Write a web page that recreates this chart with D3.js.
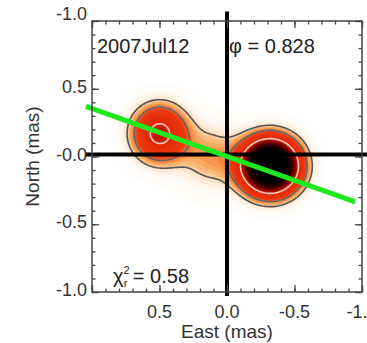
<!DOCTYPE html>
<html>
<head>
<meta charset="utf-8">
<script src="https://cdn.jsdelivr.net/npm/d3@7"></script>
<style>
  body { margin: 0; background: #fff; }
  svg { display: block; font-family: "Liberation Sans", Arial, sans-serif; }
</style>
</head>
<body>
<svg id="chart" width="367" height="343"></svg>
<script>
// Gaussian components of the model image (mas, relative flux)
const compX = [-0.32, 0.5, 0.12];
const compY = [-0.07, 0.17, 0.0];
const compAmp = [1.0, 0.34, 0.1];
const compSx = [0.135, 0.135, 0.16];
const compSy = [0.13, 0.14, 0.17];

// contour lines drawn on top of the image
const lineLevels = [0.07, 0.13, 0.3];
const lineColors = ["#555", "#666", "#f6c8c0"];

// colour table of the image
const cmapStops = [0, 0.03, 0.06, 0.075, 0.1, 0.13, 0.16, 0.3, 0.36, 0.5, 0.65];
const cmapColors = ["#ffffff", "#fffaf5", "#fee9d6", "#fccb98", "#f9a055", "#f36a25",
  "#ec3810", "#e02808", "#a00800", "#300000", "#000000"];

// position angle line (end points, mas)
const paX = [1.045, -0.95];
const paY = [0.37, -0.335];

// axes
const xTickVals = [1, 0.5, 0, -0.5, -1];
const xTickLabels = ["", "0.5", "0.0", "-0.5", "-1.0"];
const yTickVals = [1, 0.5, 0, -0.5, -1];
const yTickLabels = ["-1.0", "0.5", "-0.0", "-0.5", "-1.0"];

const epoch = "2007Jul12";
const phase = "0.828";
const chi2 = "0.58";

const svg = d3.select("#chart");
const pLeft = 92, pRight = 362, pTop = 21, pBottom = 292;

const x = d3.scaleLinear().domain([1, -1]).range([pLeft, pRight]);
const y = d3.scaleLinear().domain([1, -1]).range([pTop, pBottom]);

const color = d3.scaleLinear().domain(cmapStops).range(cmapColors).clamp(true);

// sample the model on a grid
const step = 2;
const nx = Math.ceil((pRight - pLeft) / step);
const ny = Math.ceil((pBottom - pTop) / step);
const values = new Float64Array(nx * ny);
for (let j = 0; j < ny; j++) {
  for (let i = 0; i < nx; i++) {
    const dx = x.invert(pLeft + (i + 0.5) * step);
    const dy = y.invert(pTop + (j + 0.5) * step);
    let v = 0;
    compX.forEach((cx, k) => {
      const u = (dx - cx) / compSx[k];
      const w = (dy - compY[k]) / compSy[k];
      v += compAmp[k] * Math.exp(-0.5 * (u * u + w * w));
    });
    values[j * nx + i] = v;
  }
}

const toPx = d3.geoTransform({
  point: function (px, py) { this.stream.point(pLeft + px * step, pTop + py * step); }
});
const path = d3.geoPath(toPx);

svg.append("clipPath").attr("id", "clip")
  .append("rect").attr("x", pLeft).attr("y", pTop)
  .attr("width", pRight - pLeft).attr("height", pBottom - pTop);

const plot = svg.append("g").attr("clip-path", "url(#clip)");

const fillLevels = d3.range(0.01, 1.2, 0.01);
plot.selectAll("path.fill")
  .data(d3.contours().size([nx, ny]).thresholds(fillLevels)(values))
  .join("path")
  .attr("class", "fill")
  .attr("d", path)
  .attr("fill", d => color(d.value + 0.005));

plot.selectAll("path.line")
  .data(d3.contours().size([nx, ny]).thresholds(lineLevels)(values))
  .join("path")
  .attr("class", "line")
  .attr("d", path)
  .attr("fill", "none")
  .attr("stroke", (d, i) => lineColors[i])
  .attr("stroke-width", 1.6);

// labels inside the panel
const txt = svg.append("g").attr("font-size", 20).attr("fill", "#222");
txt.append("text").attr("x", 97).attr("y", 53).text(epoch);
txt.append("text").attr("x", 229).attr("y", 53).text("\u03c6 = " + phase);
const chiText = txt.append("text").attr("x", 113).attr("y", 283);
chiText.append("tspan").text("\u03c7");
chiText.append("tspan").attr("font-size", 11).attr("dy", -9).text("2");
chiText.append("tspan").attr("font-size", 11).attr("dy", 13).attr("dx", -6).text("r");
chiText.append("tspan").attr("dy", -4).text(" = " + chi2);

// cross at the origin
svg.append("line")
  .attr("x1", x(0)).attr("x2", x(0))
  .attr("y1", y(1.07)).attr("y2", y(-1.03))
  .attr("stroke", "#000").attr("stroke-width", 4);
svg.append("line")
  .attr("x1", x(1.045)).attr("x2", x(-1.1))
  .attr("y1", y(0.015)).attr("y2", y(0.015))
  .attr("stroke", "#000").attr("stroke-width", 4);

// position angle line
svg.append("line")
  .attr("x1", x(paX[0])).attr("y1", y(paY[0]))
  .attr("x2", x(paX[1])).attr("y2", y(paY[1]))
  .attr("stroke", "#20e820").attr("stroke-width", 5);

// frame and ticks
const minor = d3.range(-10, 11).map(d => d / 10);
const axes = [
  [d3.axisBottom, `translate(0,${pBottom})`, x],
  [d3.axisTop, `translate(0,${pTop})`, x],
  [d3.axisLeft, `translate(${pLeft},0)`, y],
  [d3.axisRight, `translate(${pRight},0)`, y]
];
axes.forEach(([ax, tr, sc]) => {
  svg.append("g").attr("transform", tr)
    .call(ax(sc).tickValues(minor).tickSize(-3.5).tickFormat(""))
    .call(g => g.select(".domain").remove())
    .selectAll("line").attr("stroke", "#444").attr("stroke-width", 1.3);
  svg.append("g").attr("transform", tr)
    .call(ax(sc).tickValues(xTickVals).tickSize(-7).tickFormat(""))
    .call(g => g.select(".domain").remove())
    .selectAll("line").attr("stroke", "#444").attr("stroke-width", 1.3);
});

svg.append("rect")
  .attr("x", pLeft).attr("y", pTop)
  .attr("width", pRight - pLeft).attr("height", pBottom - pTop)
  .attr("fill", "none").attr("stroke", "#444").attr("stroke-width", 1.5);

// tick labels
svg.append("g").attr("font-size", 18).attr("fill", "#333")
  .selectAll("text").data(xTickVals).join("text")
  .attr("x", d => x(d)).attr("y", 318)
  .attr("text-anchor", "middle")
  .text((d, i) => xTickLabels[i]);

svg.append("g").attr("font-size", 18).attr("fill", "#333")
  .selectAll("text").data(yTickVals).join("text")
  .attr("x", 87).attr("y", d => y(d) + (d === 1 ? -1 : 4))
  .attr("text-anchor", "end")
  .text((d, i) => yTickLabels[i]);

// axis titles
svg.append("text")
  .attr("x", x(0)).attr("y", 338)
  .attr("text-anchor", "middle").attr("font-size", 19).attr("fill", "#333")
  .text("East (mas)");
svg.append("text")
  .attr("transform", `translate(39,${y(0)}) rotate(-90)`)
  .attr("text-anchor", "middle").attr("font-size", 19).attr("fill", "#333")
  .text("North (mas)");
</script>
</body>
</html>
